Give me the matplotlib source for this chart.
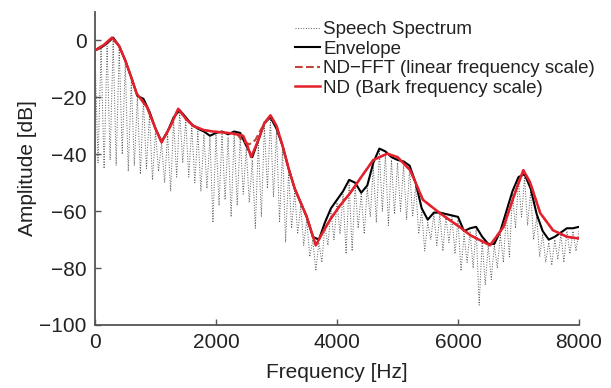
import numpy as np
import matplotlib
matplotlib.use("Agg")
import matplotlib.pyplot as plt

plt.rcParams['font.family'] = ['Liberation Sans', 'DejaVu Sans']

# ---- data ----
F0 = 100  # harmonic spacing of the speech spectrum [Hz]
spec_peaks = [-4, -3, -2, 0, -3, -8, -14, -20, -21, -26, -32, -36, -33, -28, -25, -28,
              -30, -32, -33, -34, -33, -33, -34, -33, -34, -38, -42, -36, -30, -28, -32,
              -38, -46, -53, -58, -63, -70, -71, -65, -60, -57, -54, -50, -51, -54, -52,
              -44, -39, -40, -42, -43, -44, -45, -51, -60, -64, -61, -61, -62, -62, -63,
              -68, -67, -66, -70, -72, -72, -68, -61, -54, -49, -48, -53, -62, -68, -71,
              -70, -68, -67, -67, -67]
spec_troughs = [-43, -45, -42, -44, -40, -46, -44, -47, -45, -49, -46, -50, -53, -48, -43,
                -48, -50, -53, -52, -64, -58, -56, -62, -58, -54, -57, -66, -62, -52, -55,
                -64, -71, -66, -68, -72, -76, -81, -78, -72, -70, -68, -75, -74, -66, -68,
                -62, -64, -60, -65, -61, -60, -63, -62, -68, -74, -70, -72, -74, -71, -75,
                -81, -78, -80, -93, -86, -84, -80, -78, -76, -66, -62, -65, -70, -76, -78,
                -79, -77, -78, -75, -74]

env_freq = np.arange(0, 8001, 100)
env_db = [-3.5, -2.5, -1, 1, -2, -7, -13, -19.5, -20.5, -25, -31, -35.5, -32, -27, -24.5,
          -27, -29.5, -31, -32, -33.5, -32.5, -32, -33, -32, -32.5, -37, -41, -35, -29, -27,
          -31, -37, -45, -52, -57, -62, -69, -70, -64, -59, -56, -53, -49, -50, -53.5, -51,
          -43, -38, -39, -41, -42, -42.5, -44, -50, -59, -63, -60.5, -60.5, -61, -61.5, -62,
          -67, -66, -65.5, -69, -71.5, -71.5, -67, -60, -53, -48, -47, -52, -61, -67, -70,
          -69, -67.5, -66, -66, -65.5]

bark_freq = [0, 150, 280, 400, 500, 600, 690, 860, 1000, 1100, 1250, 1375, 1500, 1620, 1800,
             1950, 2100, 2280, 2450, 2520, 2580, 2700, 2800, 2900, 3000, 3100, 3200, 3300,
             3400, 3500, 3650, 3750, 3885, 4050, 4215, 4400, 4600, 4830, 5000, 5210, 5420,
             5700, 6030, 6200, 6530, 6750, 6975, 7080, 7190, 7360, 7570, 7800, 8000]
bark_db = [-3.5, -1.5, 1, -2, -7, -13, -18.7, -23.4, -31, -35.8, -30, -24, -27.5, -30, -31.5,
           -32, -32.3, -32.7, -33.5, -37, -41, -35, -29, -26.3, -30, -37, -45, -52, -57, -62,
           -72, -68, -63, -58, -53.7, -48, -42, -39.8, -41, -45.6, -56, -60.7, -65.6, -68.4,
           -72, -65.6, -51.6, -45.6, -49.8, -60.7, -66.7, -69, -69.6]

fft_freq = [0, 150, 280, 400, 500, 600, 690, 860, 1000, 1100, 1250, 1375, 1500, 1620, 1800,
            1950, 2100, 2280, 2350, 2450, 2550, 2650, 2750, 2900, 3000, 3100, 3200, 3300,
            3400, 3500, 3650, 3750, 3885, 4050, 4215, 4400, 4600, 4830, 5000, 5210, 5420,
            5700, 6030, 6200, 6530, 6750, 6975, 7080, 7190, 7360, 7570, 7800, 8000]
fft_db = [-3.5, -1.5, 1, -2, -7, -13, -18.7, -23.4, -31, -35.8, -30, -24, -27.5, -30, -31.5,
          -32, -32.3, -32.7, -33, -35.5, -36.5, -35, -31, -26.3, -30, -37, -45, -52, -57, -62,
          -72, -68, -63, -58, -53.7, -48, -42, -39.8, -41, -45.6, -56, -60.7, -65.6, -68.4,
          -72, -65.6, -51.6, -45.6, -49.8, -60.7, -66.7, -69, -69.6]

legend_labels = ["Speech Spectrum", "Envelope", "ND\u2212FFT (linear frequency scale)",
                 "ND (Bark frequency scale)"]

# build alternating peak/trough sequence for the spectrum
n = len(spec_troughs)
spec_f, spec_v = [], []
for k in range(n):
    spec_f += [k * F0, k * F0 + F0 / 2]
    spec_v += [spec_peaks[k], spec_troughs[k]]
spec_f.append(n * F0)
spec_v.append(spec_peaks[n])

fig = plt.figure(figsize=(6.11, 3.88), dpi=100)
ax = fig.add_axes([95 / 611, 1 - 325 / 388, (579 - 95) / 611, (325 - 12) / 388])

ax.plot(spec_f, spec_v, ':', color='#5a5a5a', lw=0.7, label=legend_labels[0], zorder=1)
ax.plot(env_freq, env_db, '-', color='black', lw=1.5, label=legend_labels[1], zorder=2)
ax.plot(fft_freq, fft_db, '--', color='#c0443a', lw=1.5, label=legend_labels[2], zorder=3)
ax.plot(bark_freq, bark_db, '-', color='#e3202b', lw=1.8, label=legend_labels[3], zorder=4)

ax.set_xlim(0, 8000)
ax.set_ylim(-100, 10)
ax.set_xticks([0, 2000, 4000, 6000, 8000])
ax.set_yticks([-100, -80, -60, -40, -20, 0])
for s in ['top', 'right']:
    ax.spines[s].set_visible(False)
for s in ['left', 'bottom']:
    ax.spines[s].set_color('#555555')
    ax.spines[s].set_linewidth(1.3)
ax.tick_params(direction='in', length=4, width=1, color='#555555', labelsize=15, pad=6,
               labelcolor='#222222')
ax.set_xlabel("Frequency [Hz]", fontsize=15, color='#222222', labelpad=8)
ax.set_ylabel("Amplitude [dB]", fontsize=15, color='#222222', labelpad=2)

leg = ax.legend(loc='upper left', bbox_to_anchor=(295 / 611, 1 - 21 / 388),
                bbox_transform=fig.transFigure, frameon=False, fontsize=13.5,
                handlelength=1.35, handletextpad=0.15, labelspacing=0.13,
                borderpad=0, borderaxespad=0)
for t in leg.get_texts():
    t.set_color('#222222')

fig.savefig("out.png", dpi=100)
